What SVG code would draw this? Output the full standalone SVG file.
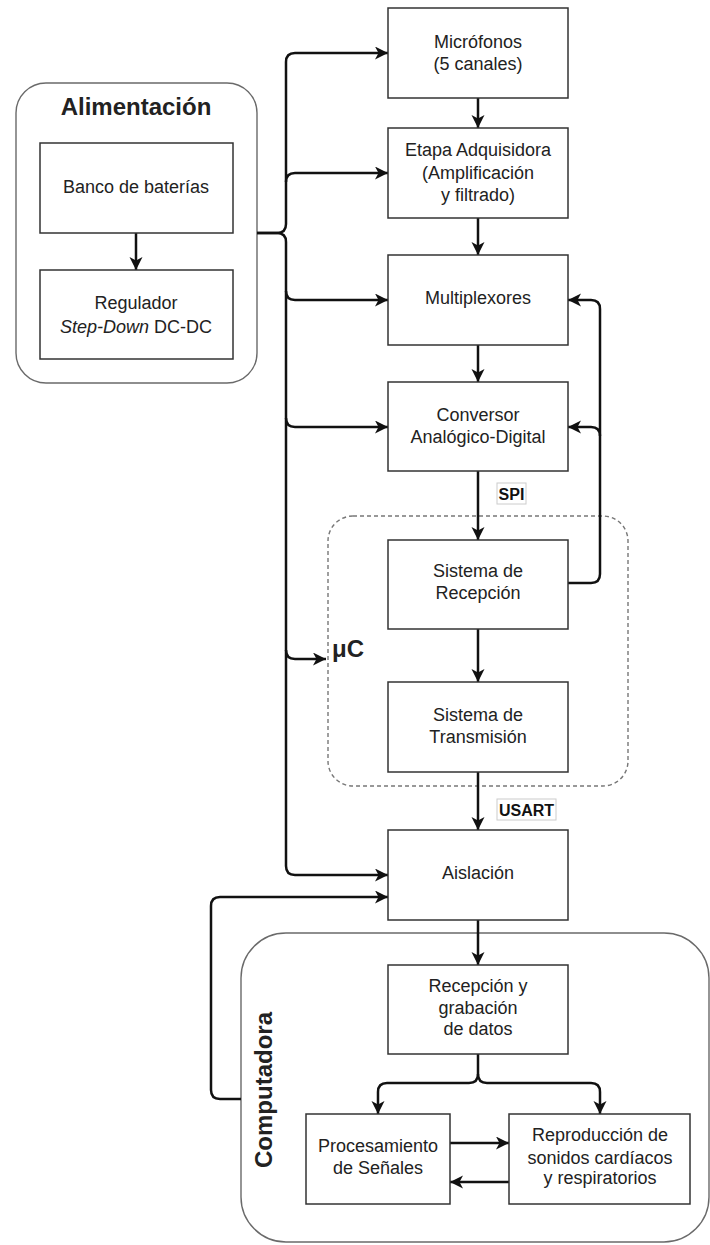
<svg xmlns="http://www.w3.org/2000/svg" width="710" height="1245" viewBox="0 0 710 1245">
  <style>
    .box { fill: #ffffff; stroke: #333333; stroke-width: 1.5; }
    .group { fill: none; stroke: #6a6a6a; stroke-width: 1.4; }
    .dash { fill: none; stroke: #777777; stroke-width: 1.4; stroke-dasharray: 4 3; }
    .wire { fill: none; stroke: #111111; stroke-width: 2.5; stroke-linejoin: round; }
    .arrow { marker-end: url(#head); }
    text { font-family: "Liberation Sans", Arial, sans-serif; fill: #222222; }
    .lbl { font-size: 18px; text-anchor: middle; }
    .title { font-size: 24px; font-weight: bold; }
    .tag { font-size: 16px; font-weight: bold; text-anchor: middle; fill: #111111; }
    .tagbox { fill: #ffffff; stroke: #cccccc; stroke-width: 1; }
  </style>
  <defs>
    <marker id="head" markerUnits="userSpaceOnUse" markerWidth="16" markerHeight="14" refX="13" refY="6.5" orient="auto">
      <path d="M0,0 L13,6.5 L0,13 L3.5,6.5 Z" fill="#111111"/>
    </marker>
  </defs>

  <!-- grouping containers -->
  <g id="alimentacion">
    <rect class="group" x="16" y="83" width="241" height="300" rx="30" ry="30"/>
    <text class="title" x="136" y="115" text-anchor="middle">Alimentación</text>
  </g>
  <g id="microcontrolador">
    <rect class="dash" x="328" y="516" width="300" height="270" rx="25" ry="25"/>
    <text class="title" x="332" y="657">μC</text>
  </g>
  <g id="computadora">
    <rect class="group" x="241" y="933" width="468" height="309" rx="45" ry="45"/>
    <text class="title" transform="translate(272,1090) rotate(-90)" text-anchor="middle">Computadora</text>
  </g>

  <!-- connectors -->
  <g id="connectors">
    <!-- power bus -->
    <path class="wire arrow" d="M257,233 H277 Q286,233 286,224 V62 Q286,53 295,53 H388"/>
    <path class="wire arrow" d="M286,182 Q286,173 295,173 H388"/>
    <path class="wire arrow" d="M257,233 H277 Q286,233 286,242 V866 Q286,875 295,875 H388"/>
    <path class="wire arrow" d="M286,291 Q286,300 295,300 H388"/>
    <path class="wire arrow" d="M286,418 Q286,427 295,427 H388"/>
    <path class="wire arrow" d="M286,650 Q286,659 295,659 H326"/>
    <!-- battery to regulator -->
    <path class="wire arrow" d="M136,233 V270"/>
    <!-- signal chain -->
    <path class="wire arrow" d="M478,98 V128"/>
    <path class="wire arrow" d="M478,218 V255"/>
    <path class="wire arrow" d="M478,345 V382"/>
    <path class="wire arrow" d="M478,471 V540"/>
    <path class="wire arrow" d="M478,629 V682"/>
    <path class="wire arrow" d="M478,772 V830"/>
    <path class="wire arrow" d="M478,920 V965"/>
    <!-- control feedback from receiver -->
    <path class="wire arrow" d="M568,583 H591 Q600,583 600,574 V309 Q600,300 591,300 H568"/>
    <path class="wire arrow" d="M600,436 Q600,427 591,427 H568"/>
    <!-- computer back to isolation -->
    <path class="wire arrow" d="M241,1099 H220 Q211,1099 211,1090 V906 Q211,897 220,897 H388"/>
    <!-- fork inside computer -->
    <path class="wire arrow" d="M478,1054 V1074 Q478,1083 469,1083 H387 Q378,1083 378,1092 V1114"/>
    <path class="wire arrow" d="M478,1074 Q478,1083 487,1083 H591 Q600,1083 600,1092 V1114"/>
    <path class="wire arrow" d="M450,1143 H509"/>
    <path class="wire arrow" d="M509,1182 H450"/>
    <!-- bus labels -->
    <rect class="tagbox" x="497" y="483" width="29" height="21"/>
    <text class="tag" x="511.5" y="499.5">SPI</text>
    <rect class="tagbox" x="497" y="799" width="59" height="21"/>
    <text class="tag" x="526.5" y="815.5">USART</text>
  </g>

  <!-- nodes -->
  <g id="banco">
    <rect class="box" x="40" y="143" width="193" height="90"/>
    <text class="lbl" x="136" y="193">Banco de baterías</text>
  </g>
  <g id="regulador">
    <rect class="box" x="40" y="270" width="193" height="89"/>
    <text class="lbl" x="136" y="309">Regulador</text>
    <text class="lbl" x="136" y="333"><tspan font-style="italic">Step-Down</tspan> DC-DC</text>
  </g>
  <g id="microfonos">
    <rect class="box" x="388" y="8" width="180" height="90"/>
    <text class="lbl" x="478" y="48">Micrófonos</text>
    <text class="lbl" x="478" y="70">(5 canales)</text>
  </g>
  <g id="etapa">
    <rect class="box" x="388" y="128" width="180" height="90"/>
    <text class="lbl" x="478" y="156">Etapa Adquisidora</text>
    <text class="lbl" x="478" y="179">(Amplificación</text>
    <text class="lbl" x="478" y="201">y filtrado)</text>
  </g>
  <g id="multiplexores">
    <rect class="box" x="388" y="255" width="180" height="90"/>
    <text class="lbl" x="478" y="304">Multiplexores</text>
  </g>
  <g id="conversor">
    <rect class="box" x="388" y="382" width="180" height="89"/>
    <text class="lbl" x="478" y="421">Conversor</text>
    <text class="lbl" x="478" y="443">Analógico-Digital</text>
  </g>
  <g id="recepcion">
    <rect class="box" x="388" y="540" width="180" height="89"/>
    <text class="lbl" x="478" y="577">Sistema de</text>
    <text class="lbl" x="478" y="599">Recepción</text>
  </g>
  <g id="transmision">
    <rect class="box" x="388" y="682" width="180" height="90"/>
    <text class="lbl" x="478" y="721">Sistema de</text>
    <text class="lbl" x="478" y="743">Transmisión</text>
  </g>
  <g id="aislacion">
    <rect class="box" x="388" y="830" width="180" height="90"/>
    <text class="lbl" x="478" y="879">Aislación</text>
  </g>
  <g id="grabacion">
    <rect class="box" x="388" y="965" width="180" height="89"/>
    <text class="lbl" x="478" y="992">Recepción y</text>
    <text class="lbl" x="478" y="1014">grabación</text>
    <text class="lbl" x="478" y="1035">de datos</text>
  </g>
  <g id="procesamiento">
    <rect class="box" x="306" y="1114" width="144" height="90"/>
    <text class="lbl" x="378" y="1152">Procesamiento</text>
    <text class="lbl" x="378" y="1174">de Señales</text>
  </g>
  <g id="reproduccion">
    <rect class="box" x="509" y="1114" width="181" height="90"/>
    <text class="lbl" x="600" y="1141">Reproducción de</text>
    <text class="lbl" x="600" y="1164">sonidos cardíacos</text>
    <text class="lbl" x="600" y="1184">y respiratorios</text>
  </g>
</svg>
